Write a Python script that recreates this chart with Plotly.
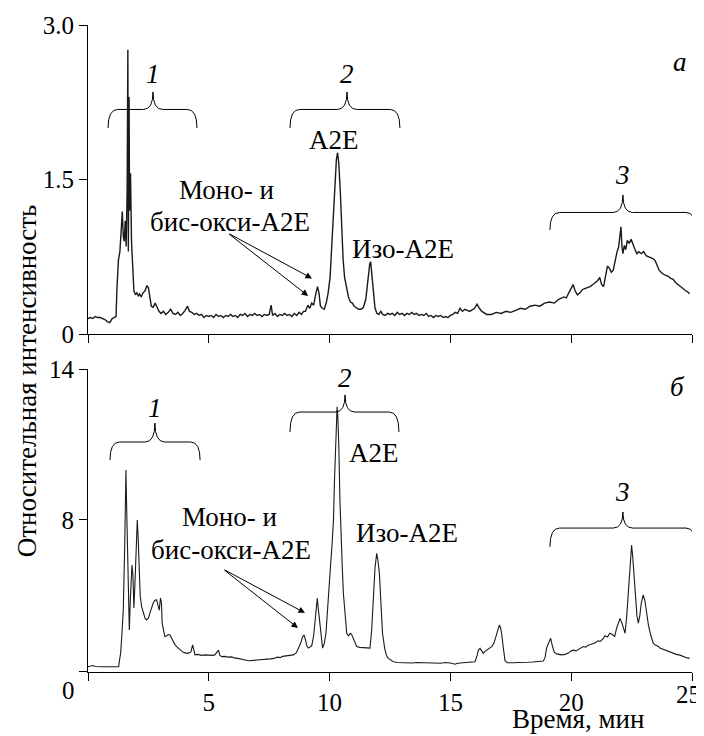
import plotly.graph_objects as go

# ---------------- data ----------------
# Panel "a": retention time (min) and relative intensity
time_a = [0.00,0.10,0.20,0.30,0.40,0.50,0.60,0.70,0.80,0.90,1.00,1.10,1.16,1.20,1.26,1.32,1.38,1.42,1.46,1.50,
          1.54,1.58,1.62,1.65,1.67,1.70,1.72,1.76,1.80,1.84,1.90,1.96,2.02,2.08,2.14,2.20,2.28,2.36,2.44,2.50,
          2.56,2.62,2.70,2.78,2.86,2.94,3.02,3.12,3.22,3.32,3.42,3.52,3.62,3.72,3.82,3.92,4.02,4.12,4.20,4.30,
          4.40,4.50,4.60,4.70,4.80,4.90,5.00,5.10,5.20,5.30,5.40,5.50,5.60,5.70,5.80,5.90,6.00,6.10,6.20,6.30,
          6.40,6.50,6.60,6.70,6.80,6.90,7.00,7.10,7.20,7.30,7.40,7.50,7.58,7.64,7.74,7.84,7.94,8.04,8.14,8.24,
          8.34,8.44,8.54,8.64,8.74,8.84,8.92,9.00,9.10,9.18,9.26,9.34,9.42,9.50,9.56,9.62,9.70,9.78,9.86,9.94,
          10.02,10.10,10.16,10.22,10.28,10.33,10.38,10.44,10.50,10.56,10.62,10.70,10.78,10.86,10.94,11.02,11.10,11.20,11.30,11.40,
          11.50,11.58,11.66,11.70,11.76,11.82,11.88,11.96,12.04,12.12,12.20,12.30,12.40,12.50,12.60,12.70,12.80,12.90,13.00,13.10,
          13.20,13.30,13.40,13.50,13.60,13.70,13.80,13.90,14.00,14.10,14.20,14.30,14.40,14.50,14.60,14.70,14.80,14.90,15.00,15.10,
          15.20,15.30,15.40,15.50,15.60,15.80,16.00,16.10,16.20,16.30,16.50,16.70,16.90,17.10,17.30,17.50,17.70,17.90,18.10,18.30,
          18.50,18.70,18.90,19.10,19.30,19.50,19.70,19.80,19.90,20.00,20.08,20.16,20.26,20.36,20.46,20.56,20.66,20.78,20.90,21.00,
          21.10,21.18,21.26,21.34,21.42,21.50,21.58,21.66,21.74,21.82,21.90,21.96,22.02,22.06,22.10,22.14,22.20,22.26,22.32,22.40,
          22.48,22.56,22.64,22.72,22.80,22.90,23.00,23.10,23.20,23.30,23.40,23.48,23.56,23.64,23.72,23.82,23.92,24.02,24.12,24.22,
          24.32,24.42,24.50,24.58,24.66,24.74,24.82,24.90]
int_a = [0.15,0.16,0.15,0.17,0.16,0.16,0.15,0.14,0.12,0.11,0.15,0.16,0.17,0.45,0.72,0.80,1.05,1.19,0.95,0.90,
         1.10,0.85,1.40,2.76,0.80,2.30,1.20,1.56,0.90,0.70,0.42,0.38,0.40,0.37,0.39,0.36,0.40,0.42,0.47,0.45,
         0.33,0.27,0.26,0.30,0.26,0.22,0.20,0.22,0.19,0.21,0.24,0.20,0.19,0.21,0.18,0.20,0.23,0.27,0.22,0.21,
         0.19,0.20,0.18,0.19,0.16,0.18,0.17,0.18,0.16,0.19,0.17,0.18,0.16,0.18,0.17,0.19,0.17,0.18,0.16,0.19,
         0.18,0.20,0.17,0.19,0.18,0.20,0.18,0.19,0.17,0.19,0.18,0.19,0.28,0.18,0.20,0.17,0.19,0.18,0.20,0.18,
         0.19,0.17,0.20,0.18,0.21,0.19,0.22,0.22,0.28,0.25,0.30,0.28,0.38,0.46,0.40,0.27,0.25,0.24,0.30,0.40,
         0.55,0.90,1.15,1.45,1.69,1.76,1.66,1.40,1.00,0.72,0.55,0.44,0.36,0.31,0.30,0.27,0.26,0.24,0.24,0.26,
         0.34,0.55,0.68,0.70,0.58,0.40,0.25,0.20,0.19,0.22,0.19,0.18,0.20,0.19,0.20,0.18,0.21,0.19,0.20,0.18,
         0.20,0.19,0.21,0.19,0.20,0.18,0.19,0.18,0.20,0.17,0.18,0.16,0.18,0.17,0.18,0.16,0.17,0.16,0.18,0.19,
         0.21,0.20,0.25,0.22,0.24,0.22,0.25,0.29,0.25,0.22,0.19,0.19,0.21,0.20,0.22,0.21,0.23,0.25,0.24,0.27,
         0.28,0.27,0.30,0.31,0.30,0.34,0.36,0.35,0.40,0.44,0.48,0.42,0.38,0.40,0.43,0.44,0.45,0.46,0.48,0.50,
         0.52,0.55,0.48,0.46,0.58,0.66,0.64,0.60,0.62,0.72,0.80,0.84,0.98,1.04,0.85,0.78,0.86,0.82,0.91,0.88,
         0.92,0.86,0.82,0.78,0.80,0.78,0.80,0.76,0.75,0.74,0.73,0.71,0.66,0.62,0.60,0.58,0.57,0.56,0.54,0.53,
         0.50,0.48,0.47,0.45,0.44,0.42,0.41,0.39]

# Panel "б": retention time (min) and relative intensity
time_b = [0.00,0.10,0.20,0.30,0.40,0.60,0.80,1.00,1.20,1.27,1.30,1.35,1.40,1.46,1.52,1.57,1.60,1.64,1.68,1.71,
          1.75,1.78,1.82,1.86,1.90,1.94,1.98,2.02,2.04,2.08,2.11,2.16,2.22,2.30,2.36,2.42,2.50,2.58,2.64,2.70,
          2.76,2.84,2.90,2.95,3.00,3.04,3.07,3.12,3.18,3.26,3.32,3.39,3.46,3.52,3.60,3.67,3.76,3.84,3.94,4.02,
          4.10,4.18,4.26,4.33,4.38,4.43,4.55,4.70,4.85,4.95,5.05,5.15,5.25,5.35,5.40,5.46,5.54,5.65,5.80,5.95,
          6.05,6.20,6.35,6.50,6.65,6.80,6.95,7.10,7.25,7.40,7.55,7.70,7.85,7.95,8.05,8.20,8.35,8.50,8.62,8.72,
          8.80,8.88,8.94,9.00,9.06,9.12,9.20,9.26,9.34,9.40,9.45,9.49,9.54,9.60,9.66,9.71,9.78,9.85,9.92,9.98,
          10.04,10.10,10.16,10.20,10.24,10.28,10.31,10.34,10.38,10.43,10.48,10.53,10.57,10.64,10.71,10.78,10.86,10.91,10.98,11.05,
          11.12,11.25,11.40,11.55,11.67,11.74,11.81,11.88,11.95,12.00,12.06,12.12,12.19,12.28,12.36,12.43,12.55,12.64,12.80,13.00,
          13.20,13.40,13.60,13.80,14.00,14.20,14.40,14.60,14.80,15.00,15.20,15.26,15.40,15.60,15.80,16.02,16.10,16.16,16.23,16.30,
          16.36,16.43,16.52,16.60,16.71,16.80,16.86,16.92,16.98,17.03,17.08,17.12,17.18,17.26,17.36,17.47,17.60,17.80,18.00,18.20,
          18.40,18.60,18.85,18.92,18.98,19.06,19.15,19.22,19.30,19.40,19.50,19.60,19.75,19.90,20.00,20.09,20.20,20.30,20.40,20.50,
          20.60,20.70,20.80,20.91,21.00,21.10,21.20,21.33,21.40,21.50,21.60,21.70,21.80,21.88,21.95,22.02,22.10,22.16,22.23,22.30,
          22.36,22.42,22.47,22.50,22.55,22.60,22.66,22.72,22.78,22.84,22.90,22.98,23.05,23.12,23.20,23.30,23.40,23.50,23.60,23.67,
          23.80,23.95,24.10,24.22,24.35,24.50,24.64,24.80,24.90]
int_b = [2.17,2.20,2.22,2.18,2.17,2.17,2.17,2.17,2.17,2.17,2.40,2.70,3.40,4.42,7.00,9.99,8.50,6.41,4.50,3.63,
         4.80,5.35,6.21,5.80,4.50,5.40,6.60,7.60,8.00,7.20,5.90,5.00,4.56,4.30,4.10,4.03,4.10,4.35,4.55,4.70,
         4.80,4.83,4.60,4.42,4.90,4.70,3.90,3.60,3.37,3.40,3.45,3.43,3.30,3.15,3.05,2.97,2.88,2.80,2.74,2.72,
         2.70,2.72,2.76,3.04,2.75,2.64,2.66,2.62,2.64,2.63,2.60,2.62,2.64,2.78,2.83,2.62,2.57,2.58,2.55,2.56,
         2.52,2.50,2.48,2.44,2.41,2.42,2.43,2.42,2.44,2.45,2.48,2.50,2.55,2.53,2.58,2.60,2.62,2.64,2.72,2.90,
         3.10,3.35,3.43,3.25,3.00,2.91,2.95,3.00,3.40,4.03,4.60,4.89,4.40,3.76,3.20,2.91,3.10,3.50,4.50,5.60,
         6.20,7.00,8.00,9.50,11.00,12.30,12.50,12.10,11.00,8.70,7.00,6.00,5.09,4.20,3.50,3.40,3.50,3.46,3.30,3.10,
         2.97,2.94,2.92,2.92,2.91,3.60,5.09,6.10,6.68,6.40,5.88,4.60,3.50,2.90,2.60,2.50,2.42,2.37,2.34,2.33,
         2.35,2.32,2.34,2.33,2.32,2.34,2.33,2.31,2.34,2.32,2.27,2.30,2.32,2.33,2.35,2.37,2.60,2.84,2.90,2.80,
         2.70,2.78,2.85,2.90,2.97,3.10,3.30,3.50,3.75,3.83,3.70,3.50,3.00,2.41,2.33,2.32,2.33,2.34,2.33,2.35,
         2.36,2.38,2.40,2.55,2.91,3.10,3.30,3.00,2.75,2.68,2.66,2.64,2.66,2.72,2.80,2.83,2.80,2.86,2.90,2.97,
         2.95,3.02,3.05,3.10,3.12,3.20,3.18,3.30,3.40,3.35,3.50,3.45,3.37,3.70,3.90,4.09,3.90,3.70,3.50,4.20,
         5.09,6.20,6.90,7.00,6.50,5.88,4.80,4.20,3.90,4.20,4.70,5.02,4.80,4.30,3.80,3.40,3.10,3.02,2.98,2.91,
         2.86,2.80,2.74,2.70,2.66,2.63,2.57,2.52,2.50]

# tick labels (the last x label "25" is placed separately so it is not clipped at the right edge)
x_ticks = [0, 5, 10, 15, 20, 25]
x_ticktext = ["", "5", "10", "15", "20", ""]
ya_ticks = [0, 1.5, 3.0]
ya_ticktext = ["0", "1.5", "3.0"]
yb_ticks = [1.96, 8, 14]
yb_ticktext = ["", "8", "14"]

FONT = "Liberation Serif"
INK = "black"
TICK_SIZE = 25
TEXT_SIZE = 27

fig = go.Figure()
fig.add_trace(go.Scatter(x=time_a, y=int_a, mode="lines", xaxis="x", yaxis="y",
                         line=dict(color="#1a1a1a", width=1.4), showlegend=False))
fig.add_trace(go.Scatter(x=time_b, y=int_b, mode="lines", xaxis="x2", yaxis="y2",
                         line=dict(color="#1a1a1a", width=1.1), showlegend=False))

axis_common = dict(showline=True, linecolor=INK, linewidth=1, ticks="outside", ticklen=8,
                   tickwidth=1, tickcolor=INK, showgrid=False, zeroline=False, automargin=False,
                   ticklabeloverflow="allow",
                   tickfont=dict(family=FONT, size=TICK_SIZE, color=INK))

# the page body adds an 8px offset, so the figure is 8px smaller with shifted margins
fig.update_layout(
    width=696, height=728,
    margin=dict(l=80, r=12, t=17, b=64, autoexpand=False),
    paper_bgcolor="white", plot_bgcolor="white",
    xaxis=dict(domain=[0, 1], range=[0, 25], anchor="y", tickvals=x_ticks,
               showticklabels=False, **axis_common),
    yaxis=dict(domain=[0.5224, 1.0], range=[0, 3.0], anchor="x", tickvals=ya_ticks,
               ticktext=ya_ticktext, **axis_common),
    xaxis2=dict(domain=[0, 1], range=[0, 25], anchor="y2", tickvals=x_ticks,
                ticktext=x_ticktext, **axis_common),
    yaxis2=dict(domain=[0, 0.4683], range=[1.96, 14], anchor="x2", tickvals=yb_ticks,
                ticktext=yb_ticktext, **axis_common),
)


def brace(x0, x1, xm, yb, yl, yt, dx):
    return (f"M {x0},{yb} Q {x0},{yl} {x0+dx},{yl} L {xm-dx},{yl} Q {xm},{yl} {xm},{yt} "
            f"Q {xm},{yl} {xm+dx},{yl} L {x1-dx},{yl} Q {x1},{yl} {x1},{yb}")


# braces (panel a)
for (x0, x1, xm, yb, yl, yt) in [(0.83, 4.51, 2.69, 2.00, 2.18, 2.35),
                                 (8.36, 12.91, 10.72, 2.00, 2.18, 2.35),
                                 (19.12, 25.15, 22.14, 1.01, 1.18, 1.35)]:
    fig.add_shape(type="path", xref="x", yref="y", path=brace(x0, x1, xm, yb, yl, yt, 0.4),
                  line=dict(color=INK, width=1))
# braces (panel b)
for (x0, x1, xm, yb, yl, yt) in [(0.91, 4.64, 2.77, 10.38, 11.10, 11.85),
                                 (8.36, 12.87, 10.64, 11.50, 12.29, 12.97),
                                 (19.12, 25.15, 22.14, 6.93, 7.68, 8.32)]:
    fig.add_shape(type="path", xref="x2", yref="y2", path=brace(x0, x1, xm, yb, yl, yt, 0.4),
                  line=dict(color=INK, width=1))


def label(text, x, y, xr, yr, size=TEXT_SIZE):
    fig.add_annotation(text=text, x=x, y=y, xref=xr, yref=yr, showarrow=False,
                       font=dict(family=FONT, size=size, color=INK), xanchor="center", yanchor="middle")


# panel a labels
label("<i>1</i>", 2.69, 2.52, "x", "y")
label("<i>2</i>", 10.72, 2.52, "x", "y")
label("<i>3</i>", 22.14, 1.54, "x", "y")
label("<i>a</i>", 24.5, 2.64, "x", "y")
label("A2E", 10.18, 1.88, "x", "y")
label("Моно- и", 5.75, 1.40, "x", "y")
label("бис-окси-A2E", 5.88, 1.09, "x", "y")
label("Изо-A2E", 13.04, 0.83, "x", "y")
# panel b labels
label("<i>1</i>", 2.77, 12.45, "x2", "y2")
label("<i>2</i>", 10.64, 13.64, "x2", "y2")
label("<i>3</i>", 22.14, 9.11, "x2", "y2")
label("<i>б</i>", 24.38, 13.28, "x2", "y2")
label("A2E", 11.84, 10.66, "x2", "y2")
label("Моно- и", 5.84, 8.12, "x2", "y2")
label("бис-окси-A2E", 5.92, 6.81, "x2", "y2")
label("Изо-A2E", 13.2, 7.48, "x2", "y2")

# arrows
for (hx, hy, tx, ty, xr, yr) in [(9.27, 0.54, 5.79, 0.98, "x", "y"),
                                 (9.11, 0.37, 5.79, 0.98, "x", "y"),
                                 (8.98, 4.31, 5.59, 6.05, "x2", "y2"),
                                 (8.69, 3.71, 5.59, 6.05, "x2", "y2")]:
    fig.add_annotation(x=hx, y=hy, ax=tx, ay=ty, xref=xr, yref=yr, axref=xr, ayref=yr,
                       text="", showarrow=True, arrowhead=2, arrowsize=1.3, arrowwidth=1,
                       arrowcolor=INK, standoff=0, startstandoff=0)

# axis titles, corner zero and last x label
fig.add_annotation(text="Относительная интенсивность", x=-0.101, y=0.451, xref="paper", yref="paper",
                   showarrow=False, textangle=-90, font=dict(family=FONT, size=TEXT_SIZE, color=INK),
                   xanchor="center", yanchor="middle")
fig.add_annotation(text="Время, мин", x=0.811, y=-0.0985, xref="paper", yref="paper",
                   showarrow=False, font=dict(family=FONT, size=TEXT_SIZE, color=INK),
                   xanchor="center", yanchor="bottom")
fig.add_annotation(text="0", x=-0.033, y=-0.028, xref="paper", yref="paper",
                   showarrow=False, font=dict(family=FONT, size=TICK_SIZE, color=INK),
                   xanchor="center", yanchor="middle")
fig.add_annotation(text="25", x=1.018, y=-0.0355, xref="paper", yref="paper",
                   showarrow=False, font=dict(family=FONT, size=TICK_SIZE, color=INK),
                   xanchor="right", yanchor="middle")

fig.write_html("out.html")
